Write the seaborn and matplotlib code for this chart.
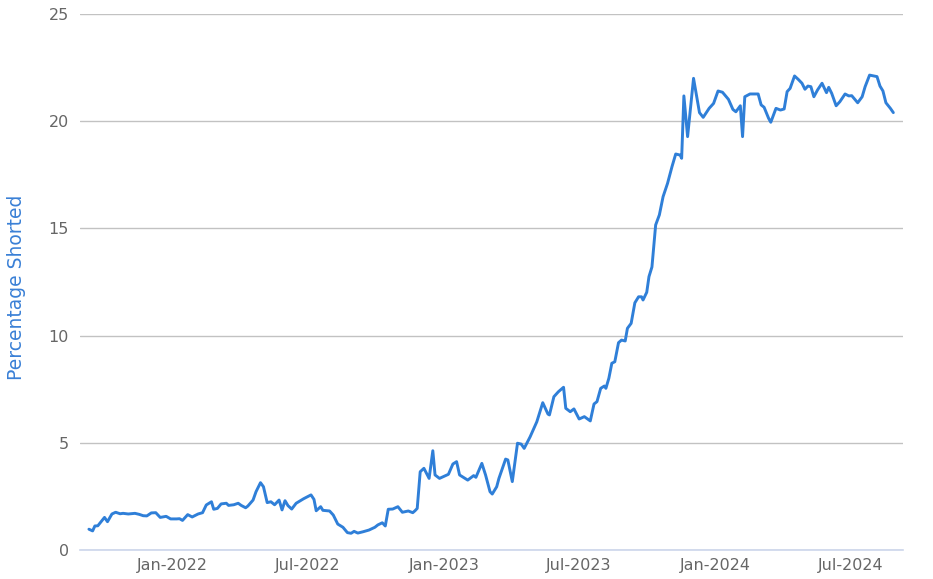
import pandas as pd
import matplotlib.pyplot as plt
import matplotlib.dates as mdates
import seaborn as sns

# datos
dates = [
    "2021-09-10", "2021-09-15", "2021-09-18", "2021-09-22", "2021-10-01", "2021-10-05",
    "2021-10-11", "2021-10-16", "2021-10-22", "2021-10-26", "2021-11-02", "2021-11-11",
    "2021-11-17", "2021-11-22", "2021-11-27", "2021-12-03", "2021-12-09", "2021-12-15",
    "2021-12-23", "2021-12-29", "2022-01-06", "2022-01-10", "2022-01-14", "2022-01-21",
    "2022-01-27", "2022-02-04", "2022-02-10", "2022-02-15", "2022-02-22", "2022-02-25",
    "2022-03-02", "2022-03-07", "2022-03-14", "2022-03-17", "2022-03-24", "2022-03-30",
    "2022-04-03", "2022-04-09", "2022-04-12", "2022-04-19", "2022-04-23", "2022-04-29",
    "2022-05-03", "2022-05-08", "2022-05-13", "2022-05-18", "2022-05-24", "2022-05-28",
    "2022-06-01", "2022-06-05", "2022-06-10", "2022-06-16", "2022-06-26", "2022-07-06",
    "2022-07-10", "2022-07-13", "2022-07-19", "2022-07-22", "2022-07-31", "2022-08-05",
    "2022-08-11", "2022-08-18", "2022-08-24", "2022-08-29", "2022-09-02", "2022-09-07",
    "2022-09-14", "2022-09-22", "2022-09-30", "2022-10-04", "2022-10-10", "2022-10-14",
    "2022-10-18", "2022-10-24", "2022-10-31", "2022-11-06", "2022-11-14", "2022-11-20",
    "2022-11-23", "2022-11-26", "2022-11-30", "2022-12-05", "2022-12-12", "2022-12-17",
    "2022-12-20", "2022-12-26", "2023-01-07", "2023-01-13", "2023-01-18", "2023-01-22",
    "2023-02-02", "2023-02-10", "2023-02-13", "2023-02-21", "2023-02-26", "2023-03-04",
    "2023-03-07", "2023-03-13", "2023-03-16", "2023-03-25", "2023-03-28", "2023-04-03",
    "2023-04-10", "2023-04-15", "2023-04-19", "2023-04-27", "2023-05-06", "2023-05-14",
    "2023-05-21", "2023-05-23", "2023-05-29", "2023-06-04", "2023-06-11", "2023-06-14",
    "2023-06-20", "2023-06-25", "2023-07-02", "2023-07-09", "2023-07-17", "2023-07-22",
    "2023-07-26", "2023-07-31", "2023-08-05", "2023-08-07", "2023-08-11", "2023-08-15",
    "2023-08-19", "2023-08-24", "2023-08-28", "2023-09-02", "2023-09-05", "2023-09-10",
    "2023-09-15", "2023-09-20", "2023-09-24", "2023-09-26", "2023-10-01", "2023-10-04",
    "2023-10-08", "2023-10-13", "2023-10-18", "2023-10-23", "2023-10-29", "2023-11-04",
    "2023-11-09", "2023-11-15", "2023-11-17", "2023-11-20", "2023-11-25", "2023-12-03",
    "2023-12-11", "2023-12-16", "2023-12-24", "2023-12-30", "2024-01-05", "2024-01-11",
    "2024-01-19", "2024-01-25", "2024-01-29", "2024-02-04", "2024-02-07", "2024-02-10",
    "2024-02-17", "2024-02-28", "2024-03-03", "2024-03-07", "2024-03-13", "2024-03-16",
    "2024-03-23", "2024-03-29", "2024-04-03", "2024-04-07", "2024-04-11", "2024-04-17",
    "2024-04-22", "2024-04-27", "2024-05-01", "2024-05-05", "2024-05-09", "2024-05-13",
    "2024-05-18", "2024-05-24", "2024-05-30", "2024-06-02", "2024-06-06", "2024-06-12",
    "2024-06-17", "2024-06-24", "2024-06-29", "2024-07-03", "2024-07-11", "2024-07-17",
    "2024-07-21", "2024-07-27", "2024-08-06", "2024-08-10", "2024-08-14", "2024-08-18",
    "2024-08-24", "2024-08-28",
]
pct_shorted = [
    0.97, 0.89, 1.12, 1.13, 1.52, 1.32,
    1.68, 1.76, 1.69, 1.71, 1.68, 1.71,
    1.66, 1.60, 1.59, 1.73, 1.74, 1.52,
    1.57, 1.45, 1.45, 1.46, 1.38, 1.65,
    1.54, 1.68, 1.74, 2.10, 2.25, 1.90,
    1.94, 2.15, 2.18, 2.08, 2.11, 2.18,
    2.08, 1.97, 2.05, 2.33, 2.72, 3.14,
    2.95, 2.21, 2.25, 2.11, 2.33, 1.87,
    2.30, 2.07, 1.91, 2.18, 2.39, 2.57,
    2.36, 1.83, 2.02, 1.85, 1.82, 1.63,
    1.21, 1.06, 0.81, 0.78, 0.87, 0.79,
    0.85, 0.93, 1.06, 1.17, 1.27, 1.12,
    1.90, 1.91, 2.02, 1.76, 1.82, 1.74,
    1.83, 1.94, 3.65, 3.81, 3.34, 4.63,
    3.50, 3.34, 3.53, 4.01, 4.12, 3.50,
    3.26, 3.47, 3.39, 4.04, 3.50, 2.72,
    2.61, 2.95, 3.34, 4.24, 4.20, 3.19,
    4.98, 4.94, 4.74, 5.28, 5.98, 6.87,
    6.34, 6.30, 7.15, 7.38, 7.59, 6.61,
    6.45, 6.58, 6.11, 6.22, 6.02, 6.81,
    6.92, 7.54, 7.65, 7.54, 8.01, 8.71,
    8.78, 9.67, 9.79, 9.75, 10.34, 10.57,
    11.53, 11.81, 11.81, 11.66, 12.02, 12.75,
    13.2, 15.16, 15.63, 16.48, 17.10, 17.88,
    18.47, 18.42, 18.27, 21.18, 19.28, 22.0,
    20.40, 20.18, 20.60, 20.83, 21.41, 21.35,
    21.02, 20.55, 20.44, 20.72, 19.28, 21.14,
    21.27, 21.27, 20.76, 20.65, 20.14, 19.95,
    20.60, 20.52, 20.57, 21.38, 21.53, 22.11,
    21.95, 21.77, 21.49, 21.64, 21.61, 21.14,
    21.46, 21.77, 21.33, 21.58, 21.30, 20.72,
    20.91, 21.27, 21.18, 21.19, 20.86, 21.14,
    21.61, 22.15, 22.08, 21.64, 21.41, 20.86,
    20.60, 20.40,
]
y_ticks = [0, 5, 10, 15, 20, 25]

df = pd.DataFrame({"date": pd.to_datetime(dates), "pct": pct_shorted})

sns.set_style("white")
plt.rcParams["font.family"] = ["DejaVu Sans"]

fig = plt.figure(figsize=(9.33, 5.79), dpi=100)
ax = fig.add_axes([80 / 933, 1 - 550 / 579, (903 - 80) / 933, (550 - 14) / 579])

sns.lineplot(data=df, x="date", y="pct", ax=ax, color="#2f7fd8", linewidth=2.1)

ax.set_ylim(0, 25)
ax.set_yticks(y_ticks)
ax.set_xlim(pd.Timestamp("2021-08-29"), pd.Timestamp("2024-09-10"))
ax.xaxis.set_major_locator(mdates.MonthLocator(bymonth=[1, 7]))
ax.xaxis.set_major_formatter(mdates.DateFormatter("%b-%Y"))

ax.grid(axis="y", color="#c2c2c2", linewidth=1.0)
ax.set_axisbelow(True)
for s in ["top", "left", "right"]:
    ax.spines[s].set_visible(False)
ax.spines["bottom"].set_color("#ccd6eb")
ax.spines["bottom"].set_linewidth(1.2)

ax.tick_params(axis="x", colors="#ccd6eb", length=4, width=1, labelcolor="#666666",
               labelsize=11.5, pad=2)
ax.tick_params(axis="y", length=0, labelcolor="#666666", labelsize=11.5, pad=8)

ax.set_xlabel("")
ax.set_ylabel("Percentage Shorted", color="#3a80d6", fontsize=13.5)
ax.yaxis.set_label_coords(-0.066, 0.49)

plt.savefig("out.png", dpi=100)
